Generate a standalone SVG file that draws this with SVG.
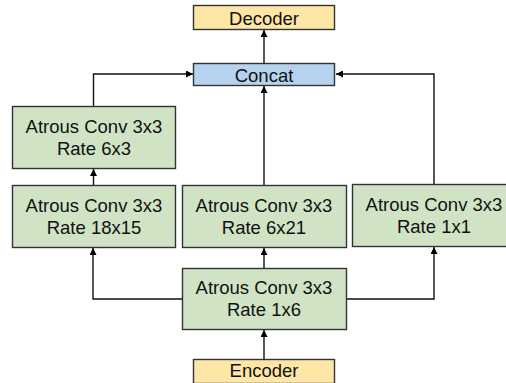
<svg xmlns="http://www.w3.org/2000/svg" width="506" height="383" viewBox="0 0 506 383">
<defs>
<marker id="ah" viewBox="0 0 10 10" refX="10" refY="5" markerWidth="7" markerHeight="7" markerUnits="userSpaceOnUse" orient="auto"><path d="M0,0 L10,5 L0,10 z" fill="#000"/></marker>
<style>
.box{stroke:#333;stroke-width:1.4}
.g{fill:#d0e4c5}
.y{fill:#fde6a6}
.b{fill:#b5d3ee}
text{font-family:"Liberation Sans",Arial,sans-serif;font-size:18.5px;fill:#111;text-anchor:middle}
.c path{fill:none;stroke:#111;stroke-width:1.4;marker-end:url(#ah)}
</style>
</defs>
<rect width="506" height="383" fill="#fff"/>
<g class="c" id="connectors">
<path d="M264,359 V330"/>
<path d="M264,268 V248"/>
<path d="M264,185 V86"/>
<path d="M264,63 V30"/>
<path d="M182,299 H93 V248"/>
<path d="M346,299 H434 V247"/>
<path d="M93.5,185 V169"/>
<path d="M93.5,106 V74 H193"/>
<path d="M434,184 V74 H336"/>
</g>
<g id="decoder"><rect class="box y" x="193.5" y="5.5" width="141" height="24"/><text x="264" y="25">Decoder</text></g>
<g id="concat"><rect class="box b" x="193.5" y="63.5" width="141" height="22"/><text x="264" y="82">Concat</text></g>
<g id="rate6x3"><rect class="box g" x="12.5" y="106.5" width="163" height="62"/><text x="94" y="133">Atrous Conv 3x3</text><text x="94" y="155">Rate 6x3</text></g>
<g id="rate18x15"><rect class="box g" x="12.5" y="185.5" width="163" height="62"/><text x="94" y="212">Atrous Conv 3x3</text><text x="94" y="234">Rate 18x15</text></g>
<g id="rate6x21"><rect class="box g" x="182.5" y="185.5" width="164" height="62"/><text x="264" y="212">Atrous Conv 3x3</text><text x="264" y="234">Rate 6x21</text></g>
<g id="rate1x1"><rect class="box g" x="352.5" y="184.5" width="164" height="62"/><text x="434" y="211">Atrous Conv 3x3</text><text x="434" y="233">Rate 1x1</text></g>
<g id="rate1x6"><rect class="box g" x="182.5" y="268.5" width="164" height="61"/><text x="264" y="294">Atrous Conv 3x3</text><text x="264" y="316">Rate 1x6</text></g>
<g id="encoder"><rect class="box y" x="193.5" y="359.5" width="141" height="24"/><text x="264" y="377">Encoder</text></g>
</svg>
